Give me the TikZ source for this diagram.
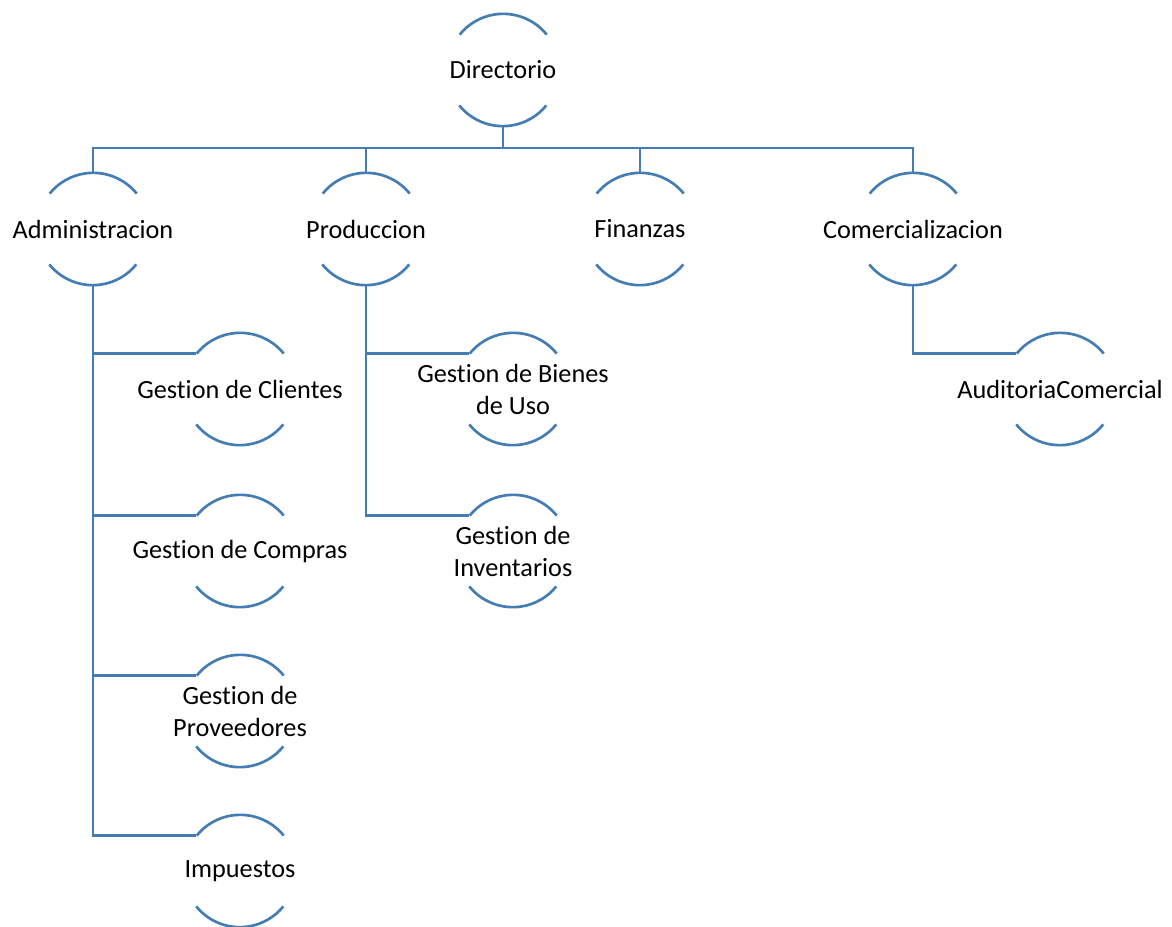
\documentclass[tikz,border=0pt]{standalone}
\usepackage{fontspec}
\setmainfont{Carlito}[RawFeature={-liga;-calt;-clig;-dlig}]
\definecolor{linec}{RGB}{68,124,180}
\newcommand\gestxt{Gest\kern0pt ion}
\begin{document}
\begin{tikzpicture}[x=0.75pt,y=0.75pt,
  ring/.style={circle,inner sep=0pt,minimum size=84pt},
  lbl/.style={font=\fontsize{19.7}{24}\selectfont,align=center,text=black,inner sep=0pt},
  conn/.style={draw=linec,line width=2pt},
  arcl/.style={draw=linec,line width=2pt}]
\useasboundingbox (0,0) rectangle (1172,-927);
\foreach \n/\x/\y in {dir/503/70,adm/93/229,pro/366/229,fin/640/229,com/913/229,
  cli/240/389,cmp/240/551,prv/240/711,imp/240/871,bie/513/389,inv/513/551,aud/1060/389}{
  \node[ring] (\n) at (\x,-\y) {};
  \draw[arcl] (\n.39) arc[start angle=39,end angle=141,radius=42pt];
  \draw[arcl] (\n.219) arc[start angle=219,end angle=321,radius=42pt];
}
\node[lbl] (tdir) at (dir) {Directorio};
\node[lbl] (tadm) at (adm) {Administracion};
\node[lbl] (tpro) at (pro) {Produccion};
\node[lbl] (tfin) at (fin) {Finanzas};
\node[lbl] (tcom) at (com) {Comercializacion};
\node[lbl] (tcli) at (cli) {\gestxt{} de Clientes};
\node[lbl] (tcmp) at (cmp) {\gestxt{} de Compras};
\node[lbl] (tprv) at (prv) {\gestxt{} de\\Proveedores};
\node[lbl] (timp) at (imp) {Impuestos};
\node[lbl] (tbie) at (bie) {\gestxt{} de Bienes\\de Uso};
\node[lbl] (tinv) at (inv) {\gestxt{} de\\Inventarios};
\node[lbl] (taud) at (aud) {AuditoriaComercial};
\coordinate (bus) at (0,-148);
\draw[conn] (dir.south) -- (dir.south |- bus);
\draw[conn] (adm.north) -- (adm.north |- bus) -- (com.north |- bus) -- (com.north);
\draw[conn] (pro.north) -- (pro.north |- bus);
\draw[conn] (fin.north) -- (fin.north |- bus);
\draw[conn] (adm.south) |- (imp.141);
\draw[conn] (adm.south) |- (cli.141);
\draw[conn] (adm.south) |- (cmp.141);
\draw[conn] (adm.south) |- (prv.141);
\draw[conn] (pro.south) |- (inv.141);
\draw[conn] (pro.south) |- (bie.141);
\draw[conn] (com.south) |- (aud.141);
\end{tikzpicture}
\end{document}
